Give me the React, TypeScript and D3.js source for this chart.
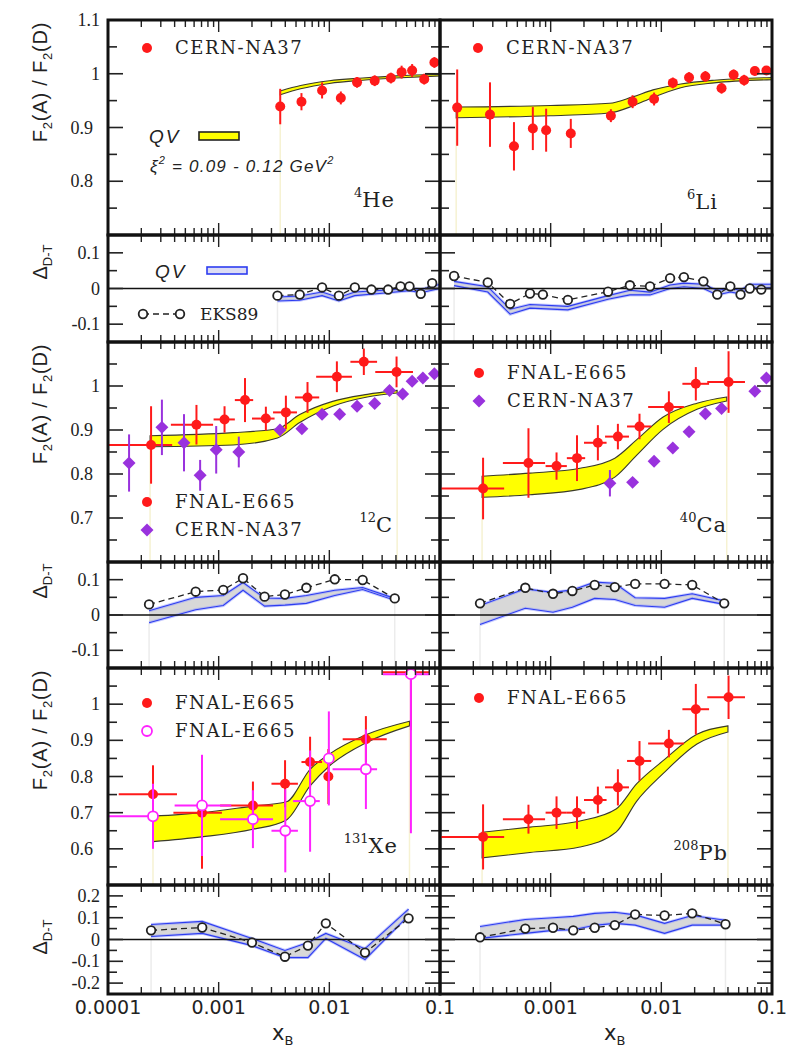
import React, { useEffect, useRef } from 'react';
import * as d3 from 'd3';

// ---------- axes ----------
const xTickValues = [1e-4, 1e-3, 1e-2, 1e-1];
const xTickLabels = ['0.0001', '0.001', '0.01', '0.1'];
const mainTicks = [[1.1, 1, 0.9, 0.8], [1, 0.9, 0.8, 0.7], [1, 0.9, 0.8, 0.7, 0.6]];
const deltaTicks = [[0.1, 0, -0.1], [0.1, 0, -0.1], [0.2, 0.1, 0, -0.1, -0.2]];

// ---------- 4He ----------
const heNa37X = [3.6e-3, 5.6e-3, 8.6e-3, 1.27e-2, 1.78e-2, 2.57e-2, 3.6e-2, 4.5e-2, 5.6e-2, 7.2e-2, 8.9e-2];
const heNa37Y = [0.939, 0.948, 0.969, 0.955, 0.984, 0.987, 0.992, 1.003, 1.006, 0.99, 1.021];
const heNa37E = [0.033, 0.016, 0.015, 0.012, 0.01, 0.01, 0.01, 0.012, 0.012, 0.01, 0.01];
const heBandX = [3.6e-3, 5.5e-3, 1e-2, 2e-2, 4e-2, 1e-1];
const heBandLo = [0.961, 0.972, 0.982, 0.988, 0.992, 0.996];
const heBandHi = [0.968, 0.978, 0.987, 0.992, 0.996, 0.999];
const heEksX = [3.4e-3, 5.4e-3, 8.6e-3, 1.22e-2, 1.7e-2, 2.4e-2, 3.4e-2, 4.4e-2, 5.3e-2, 6.7e-2, 8.5e-2];
const heEksY = [-0.02, -0.017, 0.003, -0.02, 0.003, -0.003, -0.003, 0.006, 0.006, -0.015, 0.015];
const heQvX = [3.4e-3, 5.4e-3, 8.6e-3, 1.22e-2, 1.7e-2, 3.4e-2, 5.3e-2, 6.7e-2, 1e-1];
const heQvLo = [-0.035, -0.033, -0.02, -0.035, -0.02, -0.012, -0.006, -0.012, 0.0];
const heQvHi = [-0.024, -0.021, -0.01, -0.025, -0.01, -0.004, 0.002, -0.003, 0.012];

// ---------- 6Li ----------
const liNa37X = [1.43e-4, 2.83e-4, 4.66e-4, 6.9e-4, 9.1e-4, 1.52e-3, 3.5e-3, 5.5e-3, 8.6e-3, 1.27e-2, 1.78e-2, 2.5e-2, 3.5e-2, 4.5e-2, 5.6e-2, 7.0e-2, 8.9e-2];
const liNa37Y = [0.937, 0.924, 0.865, 0.898, 0.895, 0.889, 0.922, 0.948, 0.953, 0.983, 0.993, 0.995, 0.973, 0.998, 0.988, 1.005, 1.006];
const liNa37E = [0.071, 0.06, 0.045, 0.04, 0.04, 0.027, 0.012, 0.012, 0.012, 0.01, 0.01, 0.01, 0.01, 0.01, 0.01, 0.008, 0.008];
const liBandX = [1.4e-4, 1e-3, 3.4e-3, 5.5e-3, 8.4e-3, 1.5e-2, 3e-2, 1e-1];
const liBandLo = [0.918, 0.922, 0.927, 0.94, 0.956, 0.974, 0.983, 0.989];
const liBandHi = [0.938, 0.941, 0.945, 0.957, 0.97, 0.981, 0.988, 0.993];
const liEksX = [1.34e-4, 2.7e-4, 4.3e-4, 6.5e-4, 8.5e-4, 1.43e-3, 3.3e-3, 5.2e-3, 7.9e-3, 1.2e-2, 1.6e-2, 2.4e-2, 3.2e-2, 4.2e-2, 5.2e-2, 6.3e-2, 8e-2];
const liEksY = [0.035, 0.017, -0.043, -0.014, -0.017, -0.032, -0.009, 0.009, 0.006, 0.029, 0.032, 0.02, -0.017, 0.006, -0.017, 0.0, -0.003];
const liQvX = [1.34e-4, 2.7e-4, 4.3e-4, 6.5e-4, 1.43e-3, 3.3e-3, 5.2e-3, 7.9e-3, 1.2e-2, 1.6e-2, 2.4e-2, 3.2e-2, 4.2e-2, 5.2e-2, 6.3e-2, 1e-1];
const liQvLo = [0.008, -0.01, -0.072, -0.055, -0.06, -0.03, -0.018, -0.018, 0.0, 0.005, 0.0, -0.018, -0.01, -0.015, 0.002, 0.002];
const liQvHi = [0.02, 0.005, -0.058, -0.045, -0.05, -0.02, -0.005, -0.01, 0.01, 0.015, 0.012, -0.005, 0.0, -0.005, 0.012, 0.012];

// ---------- FNAL-E665 bins (C, Ca, Pb) ----------
const e665X = [2.45e-4, 6.3e-4, 1.13e-3, 1.73e-3, 2.67e-3, 4.05e-3, 6.35e-3, 1.17e-2, 2.05e-2, 4.05e-2];
const e665Xlo = [1.0e-4, 3.7e-4, 9e-4, 1.4e-3, 2.0e-3, 3.1e-3, 4.9e-3, 7.6e-3, 1.55e-2, 2.6e-2];
const e665Xhi = [3.8e-4, 8.9e-4, 1.4e-3, 2.05e-3, 3.2e-3, 5.1e-3, 8.1e-3, 1.6e-2, 2.7e-2, 5.7e-2];

// ---------- 12C ----------
const cE665Y = [0.866, 0.912, 0.924, 0.968, 0.926, 0.94, 0.974, 1.021, 1.055, 1.032];
const cE665E = [0.088, 0.045, 0.03, 0.05, 0.027, 0.038, 0.035, 0.035, 0.03, 0.035];
const cNa37X = [1.55e-4, 3.07e-4, 4.86e-4, 6.8e-4, 9.5e-4, 1.52e-3, 3.58e-3, 5.65e-3, 8.6e-3, 1.24e-2, 1.78e-2, 2.57e-2, 3.5e-2, 4.6e-2, 5.6e-2, 7e-2, 8.9e-2];
const cNa37Y = [0.825, 0.906, 0.871, 0.797, 0.855, 0.85, 0.9, 0.903, 0.936, 0.936, 0.954, 0.96, 0.99, 0.982, 1.011, 1.018, 1.028];
const cNa37E = [0.065, 0.063, 0.065, 0.035, 0.054, 0.035, 0.012, 0.008, 0.008, 0.008, 0.008, 0.008, 0.008, 0.008, 0.008, 0.008, 0.008];
const cBandX = [2.4e-4, 1.35e-3, 3.4e-3, 5.4e-3, 1.07e-2, 2.2e-2, 4.1e-2];
const cBandLo = [0.862, 0.866, 0.882, 0.917, 0.954, 0.975, 0.984];
const cBandHi = [0.887, 0.894, 0.903, 0.935, 0.965, 0.981, 0.99];
const cEksX = [2.35e-4, 6.2e-4, 1.1e-3, 1.66e-3, 2.6e-3, 3.97e-3, 6.2e-3, 1.12e-2, 2.0e-2, 3.9e-2];
const cEksY = [0.03, 0.066, 0.071, 0.104, 0.052, 0.058, 0.077, 0.101, 0.099, 0.047];
const cQvLo = [-0.022, 0.015, 0.027, 0.07, 0.025, 0.028, 0.033, 0.055, 0.072, 0.042];
const cQvHi = [0.012, 0.05, 0.055, 0.092, 0.048, 0.047, 0.055, 0.07, 0.078, 0.047];

// ---------- 40Ca ----------
const caE665Y = [0.767, 0.825, 0.818, 0.836, 0.871, 0.885, 0.908, 0.952, 1.005, 1.009];
const caE665E = [0.07, 0.079, 0.031, 0.052, 0.04, 0.029, 0.029, 0.036, 0.038, 0.07];
const caNa37X = [3.43e-3, 5.5e-3, 8.6e-3, 1.27e-2, 1.78e-2, 2.5e-2, 3.5e-2, 7e-2, 8.9e-2];
const caNa37Y = [0.779, 0.781, 0.829, 0.859, 0.896, 0.937, 0.949, 0.988, 1.018];
const caNa37E = [0.03, 0.008, 0.008, 0.008, 0.008, 0.008, 0.008, 0.008, 0.008];
const caBandX = [2.4e-4, 6.5e-4, 1.84e-3, 3.8e-3, 6e-3, 1.03e-2, 2.1e-2, 3.9e-2];
const caBandLo = [0.747, 0.753, 0.765, 0.793, 0.843, 0.901, 0.947, 0.966];
const caBandHi = [0.795, 0.802, 0.813, 0.836, 0.878, 0.929, 0.961, 0.975];
const caEksX = [2.3e-4, 5.9e-4, 1.05e-3, 1.57e-3, 2.5e-3, 3.8e-3, 5.8e-3, 1.07e-2, 1.9e-2, 3.7e-2];
const caEksY = [0.033, 0.077, 0.06, 0.068, 0.085, 0.079, 0.088, 0.088, 0.085, 0.033];
const caQvLo = [-0.027, 0.019, 0.008, 0.022, 0.047, 0.044, 0.027, 0.022, 0.047, 0.03];
const caQvHi = [0.027, 0.074, 0.064, 0.071, 0.093, 0.09, 0.049, 0.047, 0.06, 0.04];

// ---------- 131Xe ----------
const xeE665X = [2.55e-4, 7.07e-4, 2.04e-3, 3.98e-3, 6.7e-3, 9.8e-3, 2.14e-2, 5.46e-2];
const xeE665Y = [0.751, 0.70, 0.72, 0.78, 0.84, 0.80, 0.903, 1.088];
const xeE665E = [0.08, 0.155, 0.066, 0.065, 0.07, 0.076, 0.064, 0.16];
const xeE665Xlo = [1.25e-4, 3.9e-4, 1.03e-3, 3.0e-3, 5.6e-3, 9.8e-3, 1.32e-2, 3.04e-2];
const xeE665Xhi = [4.2e-4, 1.07e-3, 3.1e-3, 5.2e-3, 8.6e-3, 9.8e-3, 3.3e-2, 8.1e-2];
const xeOpenX = [2.55e-4, 7.07e-4, 2.04e-3, 4.0e-3, 6.7e-3, 9.9e-3, 2.14e-2, 5.46e-2];
const xeOpenY = [0.69, 0.72, 0.682, 0.65, 0.732, 0.85, 0.82, 1.083];
const xeOpenE = [0.09, 0.14, 0.08, 0.115, 0.14, 0.13, 0.11, 0.44];
const xeOpenXlo = [1.0e-4, 4.0e-4, 1.03e-3, 3.0e-3, 4.7e-3, 9.9e-3, 1.07e-2, 3.04e-2];
const xeOpenXhi = [2.6e-4, 1.3e-3, 3.1e-3, 5.2e-3, 8.2e-3, 9.9e-3, 2.7e-2, 8.1e-2];
const xeBandX = [2.55e-4, 7e-4, 2.04e-3, 4.1e-3, 6.7e-3, 1.0e-2, 2.2e-2, 5.3e-2];
const xeBandLo = [0.62, 0.633, 0.654, 0.68, 0.774, 0.829, 0.895, 0.94];
const xeBandHi = [0.69, 0.70, 0.718, 0.73, 0.82, 0.862, 0.917, 0.953];
const xeEksX = [2.45e-4, 7.1e-4, 2e-3, 3.97e-3, 6.4e-3, 9.3e-3, 2.1e-2, 5.2e-2];
const xeEksY = [0.042, 0.055, -0.014, -0.079, -0.028, 0.074, -0.06, 0.097];
const xeQvLo = [0.014, 0.028, -0.028, -0.083, -0.083, 0.005, -0.092, 0.11];
const xeQvHi = [0.069, 0.083, 0.005, -0.05, -0.014, 0.028, -0.042, 0.139];

// ---------- 208Pb ----------
const pbE665Y = [0.633, 0.682, 0.70, 0.70, 0.735, 0.77, 0.843, 0.891, 0.986, 1.019];
const pbE665E = [0.09, 0.04, 0.045, 0.045, 0.037, 0.05, 0.055, 0.038, 0.07, 0.06];
const pbBandX = [2.4e-4, 6.5e-4, 1.84e-3, 3.9e-3, 6e-3, 1.03e-2, 2.1e-2, 4e-2];
const pbBandLo = [0.575, 0.59, 0.605, 0.646, 0.732, 0.807, 0.89, 0.923];
const pbBandHi = [0.646, 0.66, 0.677, 0.71, 0.78, 0.843, 0.917, 0.94];
const pbEksX = [2.3e-4, 5.9e-4, 1.05e-3, 1.6e-3, 2.5e-3, 3.8e-3, 5.8e-3, 1.07e-2, 1.9e-2, 3.8e-2];
const pbEksY = [0.01, 0.05, 0.054, 0.042, 0.054, 0.066, 0.115, 0.11, 0.12, 0.07];
const pbQvLo = [0.005, 0.028, 0.042, 0.045, 0.065, 0.074, 0.066, 0.028, 0.066, 0.066];
const pbQvHi = [0.06, 0.092, 0.1, 0.106, 0.12, 0.125, 0.113, 0.074, 0.11, 0.088];

// ---------- styles ----------
const SERIF = '"Liberation Serif", "Times New Roman", serif';
const WSERIF = '"DejaVu Serif", serif';
const SANS = '"Liberation Sans", Arial, sans-serif';
const DSANS = '"DejaVu Sans", Verdana, sans-serif';
const INK = '#222';
const RED = '#ff1a1a';
const PURPLE = '#9932dd';
const MAGENTA = '#ff22ff';

type Marker = 'dot' | 'diamond' | 'ring';
interface Series { x: number[]; y: number[]; e: number[]; xlo?: number[]; xhi?: number[]; marker: Marker; color: string }
interface Band { x: number[]; lo: number[]; hi: number[] }
interface Panel {
  col: number; row: number;
  iso: [string, string]; isoPos: [number, number];
  series: Series[]; band: Band;
  eks: { x: number[]; y: number[] }; qv: Band;
  legend: { marker: Marker; color: string; text: string }[];
  legendPos: [number, number];
}

const panels: Panel[] = [
  {
    col: 0, row: 0, iso: ['4', 'He'], isoPos: [395, 207],
    series: [{ x: heNa37X, y: heNa37Y, e: heNa37E, marker: 'dot', color: RED }],
    band: { x: heBandX, lo: heBandLo, hi: heBandHi },
    eks: { x: heEksX, y: heEksY }, qv: { x: heQvX, lo: heQvLo, hi: heQvHi },
    legend: [{ marker: 'dot', color: RED, text: 'CERN-NA37' }], legendPos: [147, 48],
  },
  {
    col: 1, row: 0, iso: ['6', 'Li'], isoPos: [718, 209],
    series: [{ x: liNa37X, y: liNa37Y, e: liNa37E, marker: 'dot', color: RED }],
    band: { x: liBandX, lo: liBandLo, hi: liBandHi },
    eks: { x: liEksX, y: liEksY }, qv: { x: liQvX, lo: liQvLo, hi: liQvHi },
    legend: [{ marker: 'dot', color: RED, text: 'CERN-NA37' }], legendPos: [478, 48],
  },
  {
    col: 0, row: 1, iso: ['12', 'C'], isoPos: [393, 532],
    series: [
      { x: e665X, y: cE665Y, e: cE665E, xlo: e665Xlo, xhi: e665Xhi, marker: 'dot', color: RED },
      { x: cNa37X, y: cNa37Y, e: cNa37E, marker: 'diamond', color: PURPLE },
    ],
    band: { x: cBandX, lo: cBandLo, hi: cBandHi },
    eks: { x: cEksX, y: cEksY }, qv: { x: cEksX, lo: cQvLo, hi: cQvHi },
    legend: [{ marker: 'dot', color: RED, text: 'FNAL-E665' }, { marker: 'diamond', color: PURPLE, text: 'CERN-NA37' }],
    legendPos: [147, 502],
  },
  {
    col: 1, row: 1, iso: ['40', 'Ca'], isoPos: [727, 532],
    series: [
      { x: e665X, y: caE665Y, e: caE665E, xlo: e665Xlo, xhi: e665Xhi, marker: 'dot', color: RED },
      { x: caNa37X, y: caNa37Y, e: caNa37E, marker: 'diamond', color: PURPLE },
    ],
    band: { x: caBandX, lo: caBandLo, hi: caBandHi },
    eks: { x: caEksX, y: caEksY }, qv: { x: caEksX, lo: caQvLo, hi: caQvHi },
    legend: [{ marker: 'dot', color: RED, text: 'FNAL-E665' }, { marker: 'diamond', color: PURPLE, text: 'CERN-NA37' }],
    legendPos: [479, 373],
  },
  {
    col: 0, row: 2, iso: ['131', 'Xe'], isoPos: [398, 853],
    series: [
      { x: xeE665X, y: xeE665Y, e: xeE665E, xlo: xeE665Xlo, xhi: xeE665Xhi, marker: 'dot', color: RED },
      { x: xeOpenX, y: xeOpenY, e: xeOpenE, xlo: xeOpenXlo, xhi: xeOpenXhi, marker: 'ring', color: MAGENTA },
    ],
    band: { x: xeBandX, lo: xeBandLo, hi: xeBandHi },
    eks: { x: xeEksX, y: xeEksY }, qv: { x: xeEksX, lo: xeQvLo, hi: xeQvHi },
    legend: [{ marker: 'dot', color: RED, text: 'FNAL-E665' }, { marker: 'ring', color: MAGENTA, text: 'FNAL-E665' }],
    legendPos: [147, 703],
  },
  {
    col: 1, row: 2, iso: ['208', 'Pb'], isoPos: [728, 860],
    series: [{ x: e665X, y: pbE665Y, e: pbE665E, xlo: e665Xlo, xhi: e665Xhi, marker: 'dot', color: RED }],
    band: { x: pbBandX, lo: pbBandLo, hi: pbBandHi },
    eks: { x: pbEksX, y: pbEksY }, qv: { x: pbEksX, lo: pbQvLo, hi: pbQvHi },
    legend: [{ marker: 'dot', color: RED, text: 'FNAL-E665' }], legendPos: [479, 698],
  },
];

// layout in pixels
const cols = [[108, 440], [440, 772]];
const mainRows = [[20, 235], [342, 562], [668, 885]];
const deltaRows = [[235, 342], [562, 668], [885, 994]];
const mainDom = [[0.7, 1.1], [0.6, 1.1], [0.5, 1.1]];
const deltaDom = [[-0.15, 0.15], [-0.15, 0.15], [-0.25, 0.25]];

export default function App() {
  const svgRef = useRef<SVGSVGElement>(null);

  useEffect(() => {
    if (!svgRef.current) return;
    const svg = d3.select(svgRef.current);
    svg.selectAll('*').remove();
    const defs = svg.append('defs');

    const xs = cols.map(c => d3.scaleLog().domain([1e-4, 1e-1]).range(c as [number, number]));

    const drawMarker = (g: any, m: Marker, color: string, cx: number, cy: number) => {
      if (m === 'dot') {
        g.append('circle').attr('cx', cx).attr('cy', cy).attr('r', 5).attr('fill', color);
      } else if (m === 'diamond') {
        g.append('path')
          .attr('d', d3.symbol().type(d3.symbolSquare).size(84)()!)
          .attr('transform', `translate(${cx},${cy}) rotate(45)`)
          .attr('fill', color);
      } else {
        g.append('circle').attr('cx', cx).attr('cy', cy).attr('r', 5)
          .attr('fill', '#fff').attr('stroke', color).attr('stroke-width', 1.8);
      }
    };

    // frame with inward ticks on all sides
    const frame = (x: any, y: any, dom: number[]) => {
      const g = svg.append('g');
      const [x0, x1] = x.range();
      const yb = y.range()[0], yt = y.range()[1];
      for (let e = -4; e <= -2; e++) {
        for (let k = 1; k <= 9; k++) {
          const v = k * Math.pow(10, e);
          if (k === 1 && e === -4) continue;
          const len = k === 1 ? 12 : 7;
          const px = x(v);
          g.append('line').attr('x1', px).attr('x2', px).attr('y1', yt).attr('y2', yt + len)
            .attr('stroke', INK).attr('stroke-width', 1.4);
          g.append('line').attr('x1', px).attr('x2', px).attr('y1', yb).attr('y2', yb - len)
            .attr('stroke', INK).attr('stroke-width', 1.4);
        }
      }
      const i0 = Math.round(dom[0] * 20), i1 = Math.round(dom[1] * 20);
      for (let i = i0 + 1; i < i1; i++) {
        const len = i % 2 === 0 ? 15 : 9;
        const py = y(i / 20);
        g.append('line').attr('x1', x0).attr('x2', x0 + len).attr('y1', py).attr('y2', py)
          .attr('stroke', INK).attr('stroke-width', 1.6);
        g.append('line').attr('x1', x1).attr('x2', x1 - len).attr('y1', py).attr('y2', py)
          .attr('stroke', INK).attr('stroke-width', 1.6);
      }
      g.append('rect').attr('x', x0).attr('y', yt).attr('width', x1 - x0).attr('height', yb - yt)
        .attr('fill', 'none').attr('stroke', '#111').attr('stroke-width', 3);
    };

    const clip = (id: string, yr: number[]) => {
      defs.append('clipPath').attr('id', id).append('rect')
        .attr('x', 0).attr('y', yr[0]).attr('width', 788).attr('height', yr[1] - yr[0]);
    };

    panels.forEach((p, pi) => {
      const x = xs[p.col];
      const ym = d3.scaleLinear().domain(mainDom[p.row]).range([mainRows[p.row][1], mainRows[p.row][0]]);
      const yd = d3.scaleLinear().domain(deltaDom[p.row]).range([deltaRows[p.row][1], deltaRows[p.row][0]]);
      clip(`cm${pi}`, mainRows[p.row]);
      clip(`cd${pi}`, deltaRows[p.row]);

      // ---- main panel ----
      const gm = svg.append('g').attr('clip-path', `url(#cm${pi})`);
      const bandPts = p.band.x.map((v, i) => ({ x: v, lo: p.band.lo[i], hi: p.band.hi[i] }));
      // faint guide lines at band ends
      [bandPts[0], bandPts[bandPts.length - 1]].forEach(b => {
        gm.append('line').attr('x1', x(b.x)).attr('x2', x(b.x))
          .attr('y1', ym(b.lo)).attr('y2', mainRows[p.row][1])
          .attr('stroke', '#f6f2d2').attr('stroke-width', 1.5);
      });
      const area = d3.area<any>().x(d => x(d.x)).y0(d => ym(d.lo)).y1(d => ym(d.hi)).curve(d3.curveMonotoneX);
      gm.append('path').attr('d', area(bandPts)!).attr('fill', '#ffff00')
        .attr('stroke', '#3a3a2a').attr('stroke-width', 1.1);

      p.series.forEach(s => {
        s.x.forEach((v, i) => {
          const cx = x(v), cy = ym(s.y[i]);
          gm.append('line').attr('x1', cx).attr('x2', cx)
            .attr('y1', ym(s.y[i] - s.e[i])).attr('y2', ym(s.y[i] + s.e[i]))
            .attr('stroke', s.color).attr('stroke-width', 2);
          if (s.xlo && s.xhi && s.xlo[i] !== s.xhi[i]) {
            gm.append('line').attr('x1', x(s.xlo[i])).attr('x2', x(s.xhi[i]))
              .attr('y1', cy).attr('y2', cy).attr('stroke', s.color).attr('stroke-width', 2);
          }
        });
        s.x.forEach((v, i) => drawMarker(gm, s.marker, s.color, x(v), ym(s.y[i])));
      });

      // legend
      p.legend.forEach((l, i) => {
        const [lx, ly] = p.legendPos;
        drawMarker(svg, l.marker, l.color, lx, ly + i * 28);
        svg.append('text').attr('x', lx + 28).attr('y', ly + i * 28 + 6)
          .attr('font-family', WSERIF).attr('font-size', 18).attr('letter-spacing', 1.6)
          .attr('fill', INK).text(l.text);
      });

      // isotope label
      const iso = svg.append('text').attr('x', p.isoPos[0]).attr('y', p.isoPos[1])
        .attr('text-anchor', 'end').attr('font-family', WSERIF).attr('fill', INK);
      iso.append('tspan').attr('font-size', 13).attr('dy', -10).text(p.iso[0]);
      iso.append('tspan').attr('font-size', 21).attr('dy', 10).attr('letter-spacing', 1).text(p.iso[1]);

      frame(x, ym, mainDom[p.row]);

      // ---- delta panel ----
      const gd = svg.append('g').attr('clip-path', `url(#cd${pi})`);
      const qvPts = p.qv.x.map((v, i) => ({ x: v, lo: p.qv.lo[i], hi: p.qv.hi[i] }));
      const qEnds = [qvPts[0], qvPts[qvPts.length - 1]];
      qEnds.forEach(b => {
        gd.append('line').attr('x1', x(b.x)).attr('x2', x(b.x))
          .attr('y1', yd(b.lo)).attr('y2', deltaRows[p.row][1])
          .attr('stroke', '#ececec').attr('stroke-width', 1.5);
      });
      const dArea = d3.area<any>().x(d => x(d.x)).y0(d => yd(d.lo)).y1(d => yd(d.hi));
      gd.append('path').attr('d', dArea(qvPts)!).attr('fill', '#d8d8d8');
      (['lo', 'hi'] as const).forEach(k => {
        const ln = d3.line<any>().x(d => x(d.x)).y(d => yd(d[k]));
        gd.append('path').attr('d', ln(qvPts)!).attr('fill', 'none')
          .attr('stroke', '#8f98ff').attr('stroke-width', 3).attr('opacity', 0.5);
        gd.append('path').attr('d', ln(qvPts)!).attr('fill', 'none')
          .attr('stroke', '#2d3df0').attr('stroke-width', 1.1);
      });
      gd.append('line').attr('x1', x.range()[0]).attr('x2', x.range()[1])
        .attr('y1', yd(0)).attr('y2', yd(0)).attr('stroke', '#111').attr('stroke-width', 1.3);
      const eksPts = p.eks.x.map((v, i) => [x(v), yd(p.eks.y[i])] as [number, number]);
      gd.append('path').attr('d', d3.line()(eksPts)!).attr('fill', 'none')
        .attr('stroke', INK).attr('stroke-width', 1.3).attr('stroke-dasharray', '6,4');
      eksPts.forEach(([cx, cy]) => {
        gd.append('circle').attr('cx', cx).attr('cy', cy).attr('r', 4.3)
          .attr('fill', '#fff').attr('stroke', INK).attr('stroke-width', 1.8);
      });

      frame(x, yd, deltaDom[p.row]);
    });

    // ---- y tick labels ----
    mainRows.forEach((_, r) => {
      const ym = d3.scaleLinear().domain(mainDom[r]).range([mainRows[r][1], mainRows[r][0]]);
      mainTicks[r].forEach(v => {
        svg.append('text').attr('x', v >= 1 ? 100 : 93).attr('y', ym(v) + 6)
          .attr('text-anchor', 'end').attr('font-family', SERIF).attr('font-size', 18)
          .attr('fill', INK).text(String(v));
      });
      const yd = d3.scaleLinear().domain(deltaDom[r]).range([deltaRows[r][1], deltaRows[r][0]]);
      deltaTicks[r].forEach(v => {
        svg.append('text').attr('x', 100).attr('y', yd(v) + 6)
          .attr('text-anchor', 'end').attr('font-family', SERIF).attr('font-size', 18)
          .attr('fill', INK).text(String(v));
      });
    });

    // ---- x tick labels ----
    xs.forEach((x, c) => {
      xTickValues.forEach((v, i) => {
        if (c === 1 && i === 0) return;
        svg.append('text').attr('x', x(v)).attr('y', 1014).attr('text-anchor', 'middle')
          .attr('font-family', DSANS).attr('font-size', 19).attr('fill', INK).text(xTickLabels[i]);
      });
      const t = svg.append('text').attr('x', x(1e-4) + 164).attr('y', 1040)
        .attr('font-family', DSANS).attr('font-size', 21).attr('fill', INK);
      t.append('tspan').text('x');
      t.append('tspan').attr('font-size', 13).attr('dy', 5).text('B');
    });

    // ---- y axis titles ----
    mainRows.forEach(r => {
      const t = svg.append('text').attr('transform', `translate(47,${r[0] + 62}) rotate(-90)`)
        .attr('text-anchor', 'middle').attr('font-family', SANS).attr('font-size', 20)
        .attr('letter-spacing', 0.8).attr('fill', INK);
      t.append('tspan').text('F');
      t.append('tspan').attr('font-size', 13).attr('dy', 5).text('2');
      t.append('tspan').attr('dy', -5).text('(A) / F');
      t.append('tspan').attr('font-size', 13).attr('dy', 5).text('2');
      t.append('tspan').attr('dy', -5).text('(D)');
    });
    [262, 581, 937].forEach(cy => {
      const t = svg.append('text').attr('transform', `translate(47,${cy}) rotate(-90)`)
        .attr('text-anchor', 'middle').attr('font-family', SANS).attr('font-size', 20).attr('fill', INK);
      t.append('tspan').text('Δ');
      t.append('tspan').attr('font-size', 13).attr('dy', 5).text('D-T');
    });

    // ---- QV legends ----
    svg.append('text').attr('x', 149).attr('y', 143).attr('font-family', SANS).attr('font-style', 'italic')
      .attr('font-size', 19).attr('letter-spacing', 2).attr('fill', INK).text('QV');
    svg.append('rect').attr('x', 199).attr('y', 132).attr('width', 40).attr('height', 8)
      .attr('fill', '#ffff00').attr('stroke', '#222').attr('stroke-width', 1.6);
    const xi = svg.append('text').attr('x', 150).attr('y', 172).attr('font-family', SANS)
      .attr('font-style', 'italic').attr('font-size', 17).attr('letter-spacing', 1.2).attr('fill', INK);
    xi.append('tspan').text('ξ');
    xi.append('tspan').attr('font-size', 11).attr('dy', -8).text('2');
    xi.append('tspan').attr('dy', 8).text(' = 0.09 - 0.12 GeV');
    xi.append('tspan').attr('font-size', 11).attr('dy', -8).text('2');

    svg.append('text').attr('x', 155).attr('y', 278).attr('font-family', SANS).attr('font-style', 'italic')
      .attr('font-size', 19).attr('letter-spacing', 2).attr('fill', INK).text('QV');
    svg.append('rect').attr('x', 207).attr('y', 267).attr('width', 40).attr('height', 7)
      .attr('fill', '#dcdcf4').attr('stroke', '#2d3df0').attr('stroke-width', 1.6);
    svg.append('line').attr('x1', 143).attr('x2', 180).attr('y1', 314).attr('y2', 314)
      .attr('stroke', INK).attr('stroke-width', 1.3).attr('stroke-dasharray', '6,4');
    [143, 180].forEach(cx => svg.append('circle').attr('cx', cx).attr('cy', 314).attr('r', 4.3)
      .attr('fill', '#fff').attr('stroke', INK).attr('stroke-width', 1.8));
    svg.append('text').attr('x', 200).attr('y', 320).attr('font-family', WSERIF)
      .attr('font-size', 17).attr('fill', INK).text('EKS89');
  }, []);

  return (
    <svg
      ref={svgRef}
      width={788}
      height={1053}
      style={{ position: 'absolute', left: 0, top: 0, background: '#fff' }}
    />
  );
}
